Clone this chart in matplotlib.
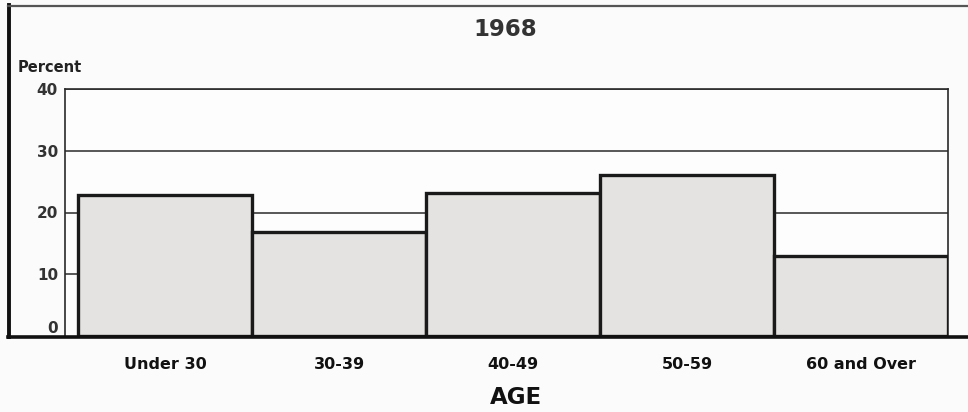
import numpy as np
import matplotlib.pyplot as plt
import matplotlib.transforms as mtransforms
from matplotlib.lines import Line2D

plt.rcParams['font.family'] = ['DejaVu Sans']

ages = ["Under 30", "30-39", "40-49", "50-59", "60 and Over"]
percent = [22.8, 16.8, 23.2, 26.1, 13.0]
yticks = [0, 10, 20, 30, 40]

fig = plt.figure(figsize=(9.68, 4.12), dpi=100)
fig.patch.set_facecolor('#fbfbfb')

ax = fig.add_axes([65/968, (412-336)/412, 883/968, 247/412])
ax.set_facecolor('#fdfdfd')

x = np.arange(len(ages))
ax.bar(x, percent, width=1.0, color='#e5e3e1', edgecolor='#1a1a1a',
       linewidth=2.4, zorder=3)

for v in yticks[1:]:
    ax.axhline(v, color='#2a2a2a', linewidth=1.1, zorder=1)

ax.set_xlim(-0.575, 4.5)
ax.set_ylim(0, 40)

ax.set_yticks(yticks)
ax.set_yticklabels([str(v) for v in yticks], fontsize=11, fontweight='bold', color='#333333')
ax.set_xticks(x)
ax.set_xticklabels(ages, fontsize=11.5, fontweight='bold', color='#111111')
ax.tick_params(axis='y', length=0, pad=5)
ax.tick_params(axis='x', length=0, pad=15)

# the "0" label sits a little above the baseline in the original
zero = ax.get_yticklabels()[0]
zero.set_transform(zero.get_transform() + mtransforms.ScaledTranslation(0, 9/100, fig.dpi_scale_trans))

for s in ['left', 'right', 'top']:
    ax.spines[s].set_color('#2a2a2a')
    ax.spines[s].set_linewidth(1.2)
ax.spines['bottom'].set_visible(False)

# outer frame of the scanned page
fig.add_artist(Line2D([8/968, 968/968], [1-337/412, 1-337/412], color='#111111', linewidth=2.6))
fig.add_artist(Line2D([9/968, 9/968], [1-337/412, 1-5/412], color='#111111', linewidth=2.8))
fig.add_artist(Line2D([8/968, 968/968], [1-6/412, 1-6/412], color='#555555', linewidth=1.6))

fig.text(505/968, 1-30/412, "1968", ha='center', va='center', fontsize=16.5,
         fontweight='bold', color='#333333')
fig.text(18/968, 1-68/412, "Percent", ha='left', va='center', fontsize=10.5,
         fontweight='bold', color='#222222')
fig.text(516/968, 1-397/412, "AGE", ha='center', va='center', fontsize=16.5,
         fontweight='bold', color='#111111')

fig.savefig("out.png", dpi=100, facecolor=fig.get_facecolor())
